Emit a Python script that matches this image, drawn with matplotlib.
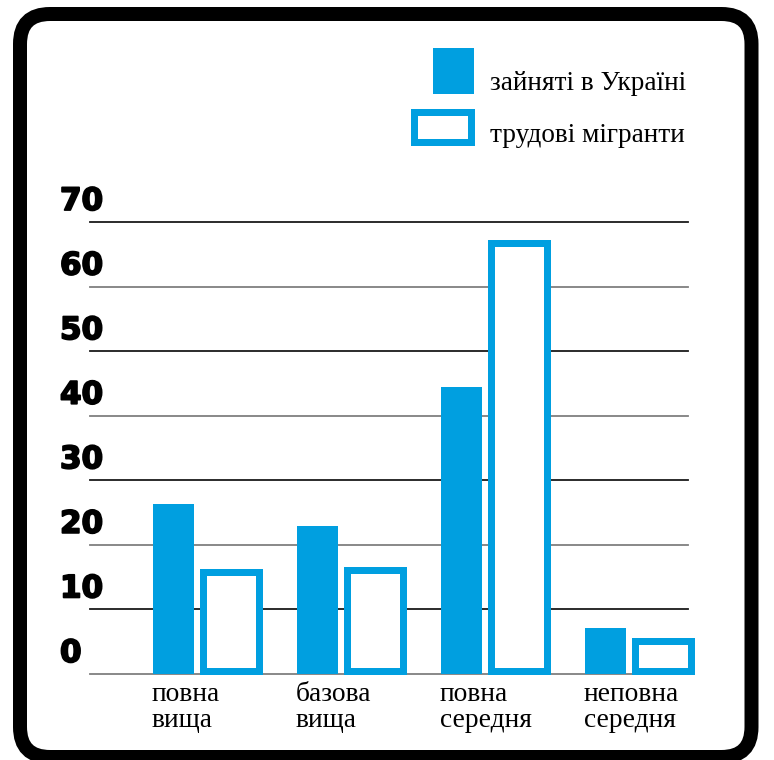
import numpy as np
import matplotlib
matplotlib.use("Agg")
import matplotlib.pyplot as plt
from matplotlib.patches import FancyBboxPatch, Rectangle
from matplotlib.transforms import IdentityTransform, offset_copy
import matplotlib.patheffects as pe

categories = ["повна\nвища", "базова\nвища", "повна\nсередня", "неповна\nсередня"]
employed_ukraine = [26.4, 22.9, 44.5, 7.1]
labour_migrants = [16.3, 16.6, 67.3, 5.6]
series_names = ["зайняті в Україні", "трудові мігранти"]
yticks = [0, 10, 20, 30, 40, 50, 60, 70]

BLUE = "#009FE0"
W, H = 774, 760
fig = plt.figure(figsize=(W / 100, H / 100), dpi=100)

def fx(px):
    return px / W

def fy(py):
    return 1 - py / H

# axes: x 90..688 px, y: 0 at 674, 70 at 222
ax = fig.add_axes([fx(90), fy(674), fx(688) - fx(90), fy(222) - fy(674)])
ax.set_ylim(0, 70)
unit = 144.0
ax.set_xlim(-63 / unit, (598 - 63) / unit)
ax.axis("off")

x = np.arange(len(categories))
fw = 41 / unit
ow = 63 / unit
ooff = 46 / unit
px_per_val = (674 - 222) / 70.0
stroke_px = 7.0
inset_x = (stroke_px / 2) / unit
inset_y = (stroke_px / 2) / px_per_val

# gridlines alternating dark / grey
for v in yticks:
    col = "#1a1a1a" if (v // 10) % 2 == 1 else "#7f7f7f"
    ax.axhline(v, color=col, lw=1.3, zorder=1, clip_on=False)

ax.bar(x, employed_ukraine, width=fw, align="edge", color=BLUE, zorder=2, clip_on=False)
ax.bar(x + ooff + inset_x, np.array(labour_migrants) - 2 * inset_y, width=ow - 2 * inset_x,
       bottom=inset_y, align="edge", facecolor="white", edgecolor=BLUE,
       linewidth=stroke_px * 0.72, zorder=2, clip_on=False, joinstyle="miter")

# y tick labels above each grid line
ytrans = offset_copy(ax.get_yaxis_transform(), fig=fig, x=0, y=12 * 0.72, units="points")
for v in yticks:
    ax.text(-30 / 598, v, str(v), transform=ytrans, ha="left", va="baseline",
            fontsize=22.3, fontweight="bold", family="DejaVu Sans", color="black",
            path_effects=[pe.withStroke(linewidth=1.3, foreground="black")])

# category labels
for xi, lab in zip(x, categories):
    ax.annotate(lab, xy=(xi - 1 / unit, 0), xytext=(0, -6), textcoords="offset points",
                ha="left", va="top", fontsize=19.8, family="Liberation Serif",
                linespacing=1.02, color="black", annotation_clip=False)

# legend (manual)
fig.patches.append(Rectangle((fx(433), fy(94)), fx(474) - fx(433), fy(48) - fy(94),
                             transform=fig.transFigure, facecolor=BLUE, edgecolor="none"))
fig.patches.append(Rectangle((fx(413.5), fy(141.5)), fx(470.5) - fx(413.5), fy(111.5) - fy(141.5),
                             transform=fig.transFigure, facecolor="white", edgecolor=BLUE,
                             linewidth=stroke_px * 0.72, joinstyle="miter"))
fig.text(fx(490), fy(90), series_names[0], ha="left", va="baseline", fontsize=19.6,
         family="Liberation Serif", color="black")
fig.text(fx(490), fy(142), series_names[1], ha="left", va="baseline", fontsize=19.6,
         family="Liberation Serif", color="black")

# rounded frame
frame = FancyBboxPatch((20, 3), 751.5 - 20, 746 - 3,
                       boxstyle="round,pad=0,rounding_size=30",
                       transform=IdentityTransform(), facecolor="none",
                       edgecolor="black", linewidth=14 * 0.72)
fig.patches.append(frame)

fig.savefig("out.png", dpi=100)
